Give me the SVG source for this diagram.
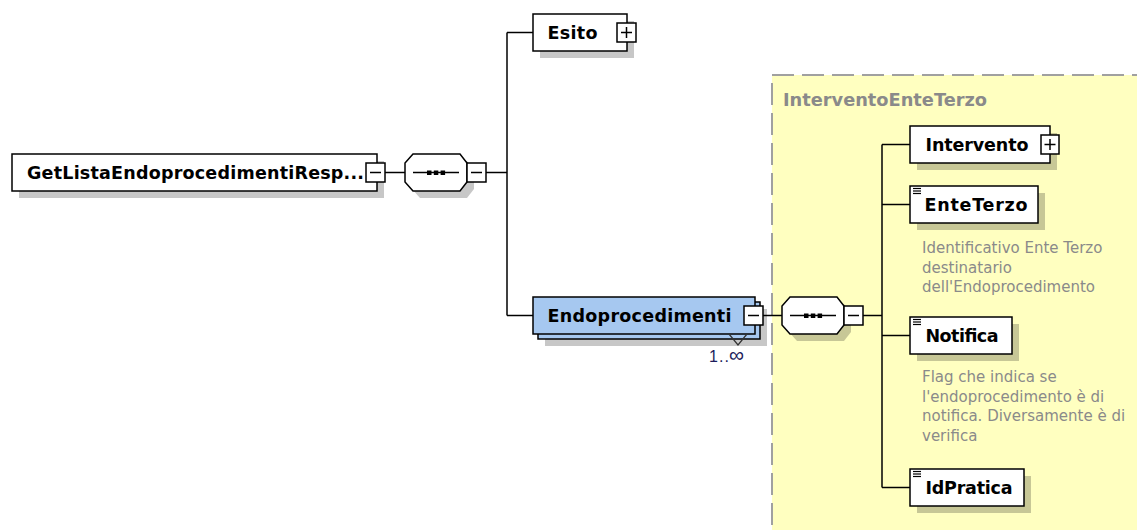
<svg xmlns="http://www.w3.org/2000/svg" width="1137" height="530" viewBox="0 0 1137 530">
<style>
.box{fill:#fff;stroke:#000;stroke-width:1.5}
.blue{fill:#a6c8f0;stroke:#000;stroke-width:1.5}
.shadow{fill:#000;fill-opacity:0.22}
.lbl{font-family:"DejaVu Sans","Liberation Sans",sans-serif;font-weight:bold;font-size:17.5px;fill:#000}
.desc{font-family:"DejaVu Sans","Liberation Sans",sans-serif;font-size:15px;fill:#8a8a8a}
.grp{font-family:"DejaVu Sans","Liberation Sans",sans-serif;font-weight:bold;font-size:17px;fill:#8a8a8a}
.card{font-family:"Liberation Sans","DejaVu Sans",sans-serif;font-size:16px;fill:#1c1c5c}
.btn{fill:#fff;stroke:#000;stroke-width:1.5}
.sym{stroke:#000;stroke-width:1.5;fill:none}
.con{stroke:#000;stroke-width:1.5;fill:none}
.ico{stroke:#000;stroke-width:1.2}
</style>
<defs>
<g id="dots">
<line x1="-23" y1="0" x2="23" y2="0" stroke="#000" stroke-width="1.5"/>
<rect x="-9" y="-2" width="4.5" height="4.5" fill="#000"/>
<rect x="-2.2" y="-2" width="4.5" height="4.5" fill="#000"/>
<rect x="4.6" y="-2" width="4.5" height="4.5" fill="#000"/>
</g>
</defs>

<g id="group-InterventoEnteTerzo">
<rect x="772" y="75" width="400" height="500" fill="#ffffc0" stroke="#a0a0a0" stroke-width="2" stroke-dasharray="22 8"/>
<text class="grp" x="783" y="106" textLength="204" lengthAdjust="spacingAndGlyphs">InterventoEnteTerzo</text>
</g>

<g id="connectors">
<line class="con" x1="385" y1="172.5" x2="405" y2="172.5"/>
<line class="con" x1="486" y1="172.5" x2="507" y2="172.5"/>
<line class="con" x1="507" y1="32.5" x2="507" y2="315.5"/>
<line class="con" x1="507" y1="32.5" x2="533" y2="32.5"/>
<line class="con" x1="507" y1="315.5" x2="533" y2="315.5"/>
<line class="con" x1="763" y1="315.5" x2="782" y2="315.5"/>
<line class="con" x1="863" y1="315.5" x2="882" y2="315.5"/>
<line class="con" x1="882" y1="144.5" x2="882" y2="487.5"/>
<line class="con" x1="882" y1="144.5" x2="910" y2="144.5"/>
<line class="con" x1="882" y1="204.5" x2="910" y2="204.5"/>
<line class="con" x1="882" y1="335.5" x2="910" y2="335.5"/>
<line class="con" x1="882" y1="487.5" x2="910" y2="487.5"/>
</g>

<g id="node-root">
<rect class="shadow" x="19" y="161" width="365" height="37"/>
<rect class="box" x="12" y="154" width="365" height="37"/>
<text class="lbl" x="27" y="178.5" textLength="337" lengthAdjust="spacing">GetListaEndoprocedimentiResp...</text>
<rect class="btn" x="366" y="163" width="19" height="19"/>
<line class="sym" x1="370" y1="172.5" x2="381" y2="172.5"/>
</g>

<g id="node-sequence1">
<polygon class="shadow" points="420,161 467,161 474,170 474,189 467,198 420,198 412,189 412,170"/>
<polygon class="box" points="413,154 460,154 467,163 467,182 460,191 413,191 405,182 405,163"/>
<use href="#dots" x="436" y="172.5"/>
<rect class="btn" x="467" y="163" width="19" height="19"/>
<line class="sym" x1="471" y1="172.5" x2="482" y2="172.5"/>
</g>

<g id="node-Esito">
<rect class="shadow" x="540" y="21" width="94" height="37"/>
<rect class="box" x="533" y="14" width="94" height="37"/>
<text class="lbl" x="547.5" y="38.5" textLength="50" lengthAdjust="spacing">Esito</text>
<rect class="btn" x="617" y="23" width="19" height="19"/>
<line class="sym" x1="621" y1="32.5" x2="632" y2="32.5"/>
<line class="sym" x1="626.5" y1="27" x2="626.5" y2="38"/>
</g>

<g id="node-Endoprocedimenti">
<rect class="shadow" x="545" y="309" width="222" height="37"/>
<rect class="blue" x="538" y="302" width="222" height="37"/>
<rect class="blue" x="533" y="297" width="222" height="37"/>
<polyline points="729,334 738,345 747,334" fill="none" stroke="#333" stroke-width="1.2"/>
<text class="lbl" x="547.5" y="321.5" textLength="184" lengthAdjust="spacing">Endoprocedimenti</text>
<rect class="btn" x="744" y="306" width="19" height="19"/>
<line class="sym" x1="748" y1="315.5" x2="759" y2="315.5"/>
<text class="card" x="709" y="362"><tspan textLength="20" lengthAdjust="spacing">1..</tspan><tspan x="729" style="font-size:21px">∞</tspan></text>
</g>

<g id="node-sequence2">
<polygon class="shadow" points="797,304 844,304 851,313 851,332 844,341 797,341 789,332 789,313"/>
<polygon class="box" points="790,297 837,297 844,306 844,325 837,334 790,334 782,325 782,306"/>
<use href="#dots" x="813" y="315.5"/>
<rect class="btn" x="844" y="306" width="19" height="19"/>
<line class="sym" x1="848" y1="315.5" x2="859" y2="315.5"/>
</g>

<g id="node-Intervento">
<rect class="shadow" x="917" y="133" width="140" height="37"/>
<rect class="box" x="910" y="126" width="140" height="37"/>
<text class="lbl" x="925.5" y="150.5" textLength="103" lengthAdjust="spacing">Intervento</text>
<rect class="btn" x="1041" y="135" width="18" height="19"/>
<line class="sym" x1="1044.5" y1="144.5" x2="1055.5" y2="144.5"/>
<line class="sym" x1="1050" y1="139" x2="1050" y2="150"/>
</g>

<g id="node-EnteTerzo">
<rect class="shadow" x="917" y="193" width="128" height="37"/>
<rect class="box" x="910" y="186" width="128" height="37"/>
<line class="ico" x1="913" y1="188.5" x2="921" y2="188.5"/>
<line class="ico" x1="913" y1="191" x2="921" y2="191"/>
<line class="ico" x1="913" y1="193.5" x2="921" y2="193.5"/>
<text class="lbl" x="924.5" y="210.5" textLength="103" lengthAdjust="spacing">EnteTerzo</text>
<text class="desc" x="922" y="253">Identificativo Ente Terzo</text>
<text class="desc" x="922" y="272.5">destinatario</text>
<text class="desc" x="922" y="292">dell'Endoprocedimento</text>
</g>

<g id="node-Notifica">
<rect class="shadow" x="917" y="324" width="102" height="37"/>
<rect class="box" x="910" y="317" width="102" height="37"/>
<line class="ico" x1="913" y1="319.5" x2="921" y2="319.5"/>
<line class="ico" x1="913" y1="322" x2="921" y2="322"/>
<line class="ico" x1="913" y1="324.5" x2="921" y2="324.5"/>
<text class="lbl" x="925.5" y="341.5" textLength="73" lengthAdjust="spacing">Notifica</text>
<text class="desc" x="922" y="382">Flag che indica se</text>
<text class="desc" x="922" y="401.5">l'endoprocedimento è di</text>
<text class="desc" x="922" y="421">notifica. Diversamente è di</text>
<text class="desc" x="922" y="440.5">verifica</text>
</g>

<g id="node-IdPratica">
<rect class="shadow" x="917" y="476" width="114" height="37"/>
<rect class="box" x="910" y="469" width="114" height="37"/>
<line class="ico" x1="913" y1="471.5" x2="921" y2="471.5"/>
<line class="ico" x1="913" y1="474" x2="921" y2="474"/>
<line class="ico" x1="913" y1="476.5" x2="921" y2="476.5"/>
<text class="lbl" x="925.5" y="493.5" textLength="87" lengthAdjust="spacing">IdPratica</text>
</g>
</svg>
